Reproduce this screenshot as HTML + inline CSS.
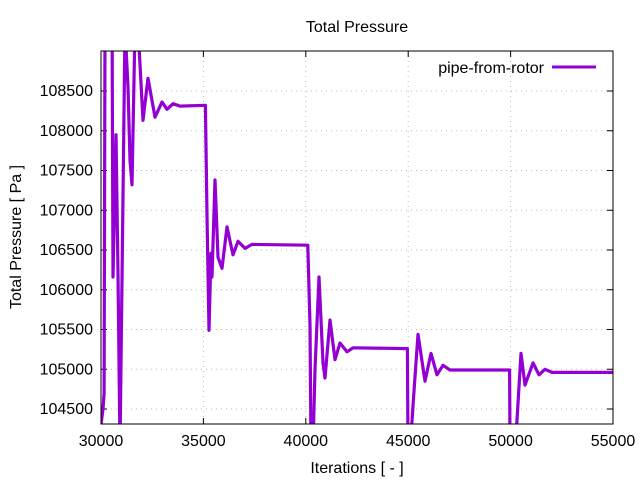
<!DOCTYPE html>
<html><head><meta charset="utf-8"><style>
body{margin:0;background:#fff;}
svg text{font-family:"Liberation Sans",sans-serif;font-size:16px;fill:#000;}
</style></head><body>
<svg id="c" width="640" height="480" xmlns="http://www.w3.org/2000/svg">
<text x="357" y="32" text-anchor="middle" font-size="15">Total Pressure</text>
<g id="grid"></g>
<g id="axes"></g>
<clipPath id="clip"><rect x="101" y="51" width="512" height="373"/></clipPath>
<g clip-path="url(#clip)"><path id="line" fill="none" stroke="#9400d3" stroke-width="3.2" stroke-linejoin="round"/></g>
<rect x="101" y="51" width="512" height="373" fill="none" stroke="#000" stroke-width="1"/>
<text x="544" y="73" text-anchor="end">pipe-from-rotor</text>
<line x1="552" y1="67" x2="596" y2="67" stroke="#9400d3" stroke-width="3"/>
<text x="357" y="473" text-anchor="middle">Iterations [ - ]</text>
<text transform="translate(21,237) rotate(-90)" text-anchor="middle">Total Pressure [ Pa ]</text>
</svg>
<script>
const xTicks=[30000,35000,40000,45000,50000,55000];
const yTicks=[104500,105000,105500,106000,106500,107000,107500,108000,108500];
const iters=[
30000,30098,30150,30195,30540,30586,30732,30830,30928,31172,31318,31416,31514,31660,31807,32051,32295,32637,32979,33223,33516,33857,35100,
35176,35273,35371,35420,35566,35713,35908,36152,36445,36689,37031,37373,40100,
40205,40254,40350,40449,40645,40840,40938,41182,41426,41670,42012,42305,44960,
44990,45100,45250,45479,45820,46113,46406,46699,47041,49950,
49971,50100,50300,50508,50703,51094,51387,51680,52022,55000];
const pressure=[
104300,104500,104700,109300,109300,106160,107950,106200,104000,109300,108550,107630,107320,109300,109300,108130,108660,108170,108360,108270,108340,108310,108320,
106940,105490,106460,106160,107380,106410,106270,106790,106440,106610,106520,106570,106560,
105560,104000,104000,105000,106160,105080,104890,105620,105120,105330,105220,105270,105260,
104000,104000,104600,105440,104850,105200,104930,105050,104990,104990,
104000,104000,104300,105200,104800,105080,104930,105000,104960,104960];
const X0=101,X1=613,Y0=424,Y1=51;
const xs=v=>X0+(v-30000)/25000*(X1-X0);
const ys=v=>409-(v-104500)/1000*79.5;
const ns="http://www.w3.org/2000/svg";
const grid=document.getElementById('grid'),axes=document.getElementById('axes');
function mk(tag,a,parent){const e=document.createElementNS(ns,tag);for(const k in a)e.setAttribute(k,a[k]);parent.appendChild(e);return e;}
xTicks.forEach(t=>{const x=xs(t);
 const g=mk('line',{x1:x,x2:x,y1:Y1,y2:Y0,stroke:'#bbb','stroke-dasharray':'1,4'},grid);
 
 
 mk('line',{x1:x,x2:x,y1:Y0,y2:Y0-6,stroke:'#000'},axes);
 mk('line',{x1:x,x2:x,y1:Y1,y2:Y1+6,stroke:'#000'},axes);
 const tx=mk('text',{x:x,y:446,'text-anchor':'middle'},axes);tx.textContent=t;
 
 
});
yTicks.forEach(t=>{const y=ys(t);
 const g=mk('line',{x1:X0,x2:X1,y1:y,y2:y,stroke:'#bbb','stroke-dasharray':'1,4'},grid);
 
 
 mk('line',{x1:X0,x2:X0+6,y1:y,y2:y,stroke:'#000'},axes);
 mk('line',{x1:X1,x2:X1-6,y1:y,y2:y,stroke:'#000'},axes);
 const tx=mk('text',{x:93,y:y+5,'text-anchor':'end'},axes);tx.textContent=t;
 
 
});
const n=Math.min(iters.length,pressure.length);
let d='';
for(let i=0;i<n;i++)d+=(i?'L':'M')+xs(iters[i]).toFixed(1)+','+ys(pressure[i]).toFixed(1);
document.getElementById('line').setAttribute('d',d);
</script>
</body></html>
